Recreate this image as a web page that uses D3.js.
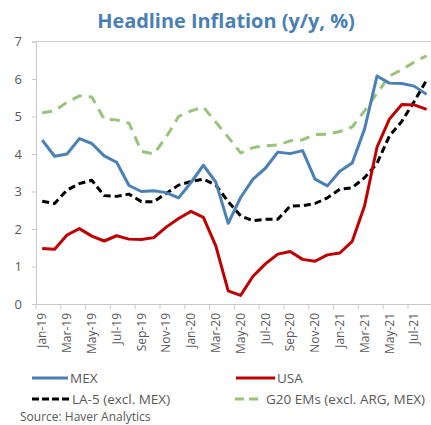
<!DOCTYPE html>
<html><head><meta charset="utf-8">
<script src="https://cdn.jsdelivr.net/npm/d3@7"></script>
<style>body{margin:0;background:#fff;} svg{display:block;font-family:"Open Sans",sans-serif;}</style>
</head><body>
<svg id="c" width="431" height="425"></svg>
<script>
const months = ["Jan-19","Feb-19","Mar-19","Apr-19","May-19","Jun-19","Jul-19","Aug-19","Sep-19","Oct-19","Nov-19","Dec-19",
"Jan-20","Feb-20","Mar-20","Apr-20","May-20","Jun-20","Jul-20","Aug-20","Sep-20","Oct-20","Nov-20","Dec-20",
"Jan-21","Feb-21","Mar-21","Apr-21","May-21","Jun-21","Jul-21","Aug-21"];
const mex = [4.37,3.94,4.00,4.41,4.28,3.95,3.78,3.16,3.00,3.02,2.97,2.83,3.24,3.70,3.25,2.15,2.84,3.33,3.62,4.05,4.01,4.09,3.33,3.15,3.54,3.76,4.67,6.08,5.89,5.88,5.81,5.59];
const usa = [1.48,1.46,1.84,2.01,1.81,1.68,1.82,1.73,1.72,1.77,2.05,2.28,2.47,2.31,1.55,0.35,0.23,0.74,1.07,1.33,1.40,1.19,1.14,1.31,1.36,1.67,2.62,4.18,4.93,5.32,5.31,5.19];
const la5 = [2.74,2.68,3.04,3.21,3.30,2.89,2.87,2.93,2.73,2.73,2.95,3.17,3.27,3.33,3.17,2.73,2.35,2.22,2.26,2.26,2.61,2.62,2.68,2.83,3.06,3.10,3.37,3.75,4.48,4.87,5.40,5.97];
const g20 = [5.10,5.15,5.38,5.55,5.52,4.93,4.91,4.82,4.07,4.00,4.45,5.00,5.15,5.25,4.85,4.45,4.03,4.17,4.22,4.24,4.35,4.38,4.52,4.53,4.60,4.72,5.15,5.62,6.08,6.25,6.45,6.62];
const yTicks = [0,1,2,3,4,5,6,7];
const xLabels = months.filter((m,i)=>i%2===0);
const series = [
  {name:"MEX", values:mex, color:"#4A80B6", width:3, dash:null},
  {name:"USA", values:usa, color:"#C00000", width:3, dash:null},
  {name:"LA-5 (excl. MEX)", values:la5, color:"#000000", width:3, dash:"7,4"},
  {name:"G20 EMs (excl. ARG, MEX)", values:g20, color:"#97C47A", width:3, dash:"10,7"}
];

const svg = d3.select("#c");
const x = d3.scaleBand().domain(months).range([36, 432.8]).padding(0);
const y = d3.scaleLinear().domain([0,7]).range([304, 41.5]);
const cx = m => x(m) + x.bandwidth()/2;

// title
const title = svg.append("text").attr("x",226).attr("y",28).attr("text-anchor","middle")
  .attr("fill","#4A7FB5").attr("font-weight","bold").attr("font-size",20)
  .text("Headline Inflation (y/y, %)");
const tl = title.node().getComputedTextLength();
title.attr("font-size", 20*258/tl);

// top border line
svg.append("line").attr("x1",36).attr("x2",431).attr("y1",y(7)).attr("y2",y(7)).attr("stroke","#D0D0D0").attr("stroke-width",1);

// y axis
const ya = svg.append("g").attr("transform","translate(36,0)")
  .call(d3.axisLeft(y).tickValues(yTicks).tickSize(4).tickPadding(10).tickFormat(d3.format("d")));
ya.selectAll("path,line").attr("stroke","#C8C8C8");
ya.selectAll("text").attr("fill","#595959").attr("font-size",13).attr("font-family","Open Sans, sans-serif");

// x axis
const xa = svg.append("g").attr("transform","translate(0,304)")
  .call(d3.axisBottom(x).tickValues(xLabels).tickSize(0).tickSizeOuter(0));
xa.select("path").attr("stroke","#C8C8C8");
xa.selectAll("text").attr("fill","#595959").attr("font-size",12).attr("font-family","Open Sans, sans-serif")
  .attr("transform","rotate(-90)").attr("text-anchor","end").attr("x",-9).attr("y",0).attr("dy","0.35em");
const bounds = months.filter((m,i)=>i%2===0).map(m=>x(m)).concat([x.range()[1]]);
xa.selectAll("line.tk").data(bounds).enter().append("line").attr("class","tk")
  .attr("x1",d=>d).attr("x2",d=>d).attr("y1",0).attr("y2",5).attr("stroke","#C8C8C8");

// lines
const line = d3.line().x((d,i)=>cx(months[i])).y(d=>y(d));
const order = [3,2,0,1];
order.forEach(k=>{
  const s = series[k];
  svg.append("path").datum(s.values).attr("d",line).attr("fill","none")
    .attr("stroke",s.color).attr("stroke-width",s.width).attr("stroke-dasharray",s.dash)
    .attr("stroke-linejoin","round");
});

// legend
const leg = [
  {s:series[0], x1:32, x2:68, tx:70, y:378},
  {s:series[1], x1:236, x2:275, tx:277, y:378},
  {s:series[2], x1:32, x2:71, tx:72, y:399},
  {s:series[3], x1:235, x2:262, tx:266, y:399}
];
leg.forEach(l=>{
  svg.append("line").attr("x1",l.x1).attr("x2",l.x2).attr("y1",l.y).attr("y2",l.y)
    .attr("stroke",l.s.color).attr("stroke-width",l.s.width)
    .attr("stroke-dasharray", l.s.dash ? (l.s.name.startsWith("LA")?"7,3":"9,5") : null);
  svg.append("text").attr("x",l.tx).attr("y",l.y).attr("dy","0.35em").attr("font-size",13.5)
    .attr("fill","#595959").text(l.s.name);
});
svg.append("text").attr("x",20).attr("y",421).attr("font-size",12).attr("fill","#595959").text("Source: Haver Analytics");
</script>
</body></html>
